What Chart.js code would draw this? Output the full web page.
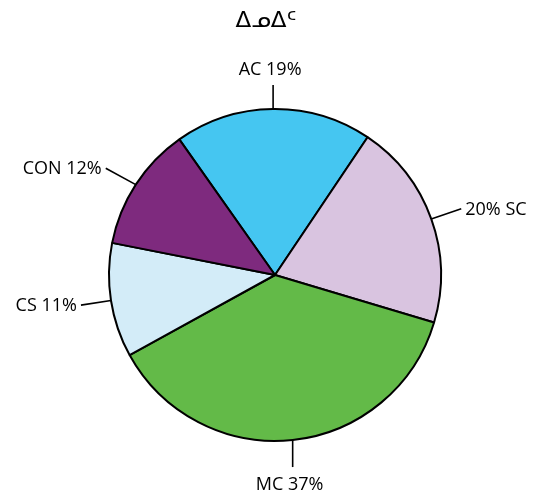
<!DOCTYPE html>
<html>
<head>
<meta charset="utf-8">
<script src="https://cdn.jsdelivr.net/npm/chart.js@4.4.0/dist/chart.umd.min.js"></script>
<style>
  body { margin: 0; background: #fff; }
  #wrap { width: 533px; height: 497px; }
</style>
</head>
<body>
<div id="wrap"><canvas id="pieChart" width="533" height="497"></canvas></div>
<script>
// data
const chartTitle = 'ᐃᓄᐃᑦ';
const categories = ['AC', 'SC', 'MC', 'CS', 'CON'];
const shares = [19, 20, 37, 11, 12];
const sliceColors = ['#45c6f1', '#d9c4e0', '#63ba48', '#d3ecf8', '#7e2a7e'];
// label text: some have the percent first
const percentFirst = [false, true, false, false, false];

const labelFont = '18px "Open Sans", "Noto Sans", sans-serif';

// draws leader lines + outside labels, and the title
const outsideLabels = {
    id: 'outsideLabels',
    afterDatasetsDraw(chart) {
        const c = chart.ctx;
        const arcs = chart.getDatasetMeta(0).data;
        c.save();
        c.strokeStyle = '#000';
        c.lineWidth = 1.6;
        c.fillStyle = '#000';
        c.font = labelFont;
        arcs.forEach((arc, i) => {
            const mid = (arc.startAngle + arc.endAngle) / 2;
            const r = arc.outerRadius;
            const cos = Math.cos(mid), sin = Math.sin(mid);
            const x0 = arc.x + cos * r, y0 = arc.y + sin * r;
            const side = Math.abs(cos) > 0.5;
            let x1, y1;
            if (side) {
                x1 = x0 + Math.sign(cos) * 30;
                y1 = y0 + sin * 30;
            } else {
                x1 = x0;
                y1 = y0 + (sin > 0 ? 27 : -24);
            }
            c.beginPath();
            c.moveTo(x0, y0);
            c.lineTo(x1, y1);
            c.stroke();
            const txt = percentFirst[i] ? shares[i] + '% ' + categories[i] : categories[i] + ' ' + shares[i] + '%';
            c.textBaseline = 'middle';
            if (side) {
                c.textAlign = cos > 0 ? 'left' : 'right';
                c.fillText(txt, x1 + Math.sign(cos) * 4, y1 + 1);
            } else {
                c.textAlign = 'center';
                c.fillText(txt, x1 - 3, y1 + (sin > 0 ? 18 : -15));
            }
        });
        c.font = '23px "DejaVu Sans", sans-serif';
        c.textAlign = 'center';
        c.textBaseline = 'middle';
        c.fillText(chartTitle, 266, 21);
        c.restore();
    }
};

new Chart(document.getElementById('pieChart').getContext('2d'), {
    type: 'pie',
    data: {
        labels: categories,
        datasets: [{
            data: shares,
            backgroundColor: sliceColors,
            borderColor: '#000',
            borderWidth: 2
        }]
    },
    options: {
        responsive: false,
        animation: false,
        rotation: -35.2,
        layout: { padding: { top: 108, bottom: 55, left: 108, right: 91 } },
        plugins: {
            legend: { display: false },
            title: { display: false },
            tooltip: { enabled: false }
        }
    },
    plugins: [outsideLabels]
});
</script>
</body>
</html>
